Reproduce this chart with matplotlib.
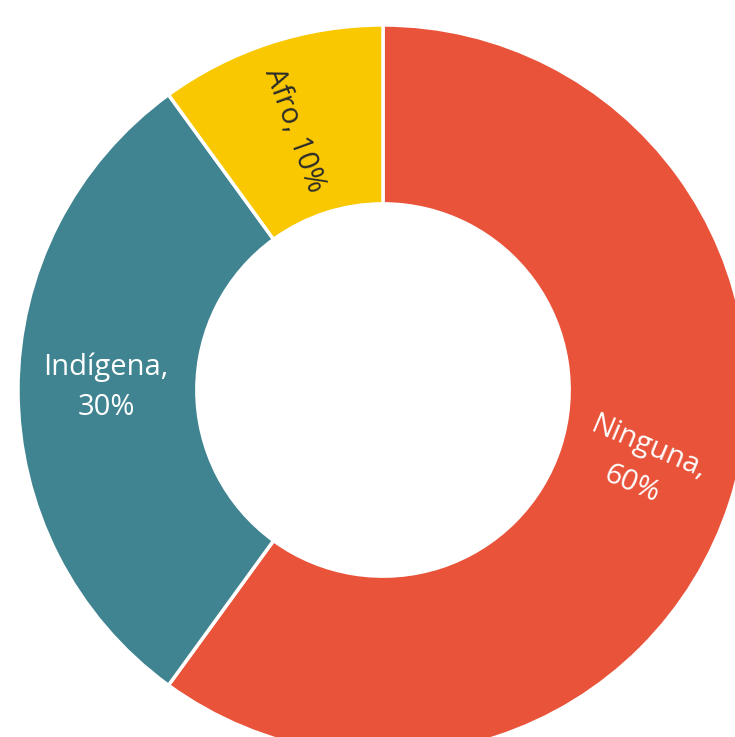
import matplotlib
matplotlib.use("Agg")
import matplotlib.pyplot as plt

# datos
categorias = ["Ninguna", "Indígena", "Afro"]
porcentajes = [60, 30, 10]
colores = ["#E8533A", "#3F8490", "#F9C800"]

plt.rcParams['font.family'] = ['Open Sans', 'DejaVu Sans']

fig = plt.figure(figsize=(7.35, 7.37), dpi=100)
ax = fig.add_axes([0, 0, 1, 1])

# centro y radio en pixeles
cx, cy = 383, 737 - 390
R = 365

ax.pie(porcentajes, colors=colores, startangle=90, counterclock=False,
       radius=R, center=(cx, cy),
       wedgeprops=dict(width=R * 0.49, edgecolor="white", linewidth=2.5))

# etiquetas
etiquetas = [c + ", " + str(p) + "%" for c, p in zip(categorias, porcentajes)]
ax.text(640, 737 - 466, "Ninguna,\n60%", color="white", fontsize=21,
        rotation=-23, ha="center", va="center", rotation_mode="anchor",
        linespacing=1.5)
ax.text(106, 737 - 387, "Indígena,\n30%", color="white", fontsize=21,
        ha="center", va="center", linespacing=1.5)
ax.text(294, 737 - 130, etiquetas[2], color="#2a2a2a", fontsize=21,
        rotation=-70, ha="center", va="center", rotation_mode="anchor")

ax.set_xlim(0, 735)
ax.set_ylim(0, 737)
ax.set_aspect("equal")
ax.axis("off")

fig.savefig("out.png", dpi=100)
